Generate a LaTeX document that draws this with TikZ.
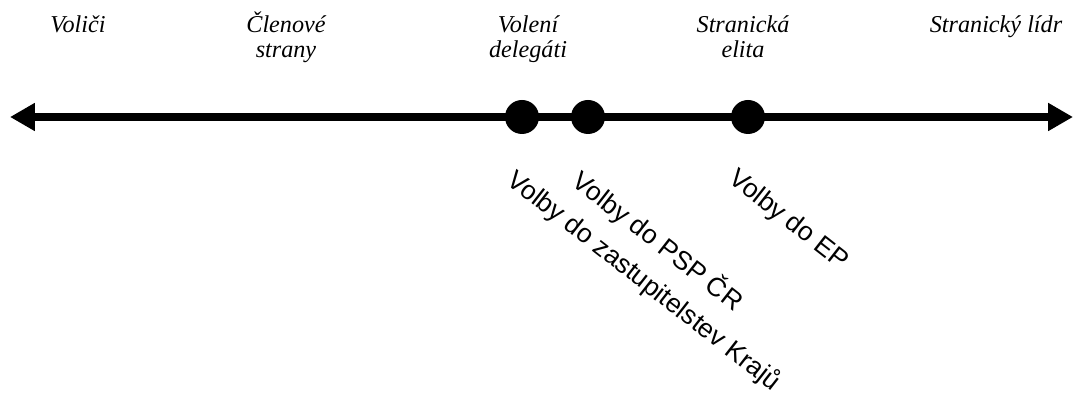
\documentclass[tikz,border=0pt]{standalone}
\usepackage{fontspec}
\setmainfont{Liberation Serif}
\setsansfont{Liberation Sans}
\usetikzlibrary{arrows.meta}

\tikzset{
  axis/.style={line width=0.2cm, {Triangle[length=0.62cm,width=0.66cm]}-{Triangle[length=0.62cm,width=0.66cm]}},
  dot/.style={draw=none, circle, fill=black, minimum size=0.85cm, inner sep=0pt},
  group/.style={font=\fontsize{17.2}{17.8}\selectfont\itshape, align=center, anchor=base, inner sep=0pt},
  volby/.style={font=\sffamily\fontsize{18.8}{21}\selectfont, rotate=-38, anchor=north west, inner sep=0pt}
}

\begin{document}
\begin{tikzpicture}[x=0.025cm, y=-0.025cm]
\useasboundingbox (0,0) rectangle (1076,398);

\coordinate (L) at (10,117);
\coordinate (R) at (1073,117);
\draw[axis] (L) -- (R);

\node[dot] (kraje) at (522,117) {};
\node[dot] (psp) at (588,117) {};
\node[dot] (ep) at (748,117) {};

% skupiny nad osou (u dvou radku je base na poslednim radku)
\node[group] (volici) at (78,33) {Voliči};
\node[group] (clenove) at (286,58) {Členové\\strany};
\node[group] (delegati) at (528,58) {Volení\\delegáti};
\node[group] (elita) at (743,58) {Stranická\\elita};
\node[group] (lidr) at (996,33) {Stranický lídr};

% volby pod osou
\node[volby] (vkraje) at (519,166) {Volby do zastupitelstev Krajů};
\node[volby] (vpsp) at (585,166) {Volby do PSP ČR};
\node[volby] (vep) at (739,166) {Volby do EP};

\end{tikzpicture}
\end{document}
